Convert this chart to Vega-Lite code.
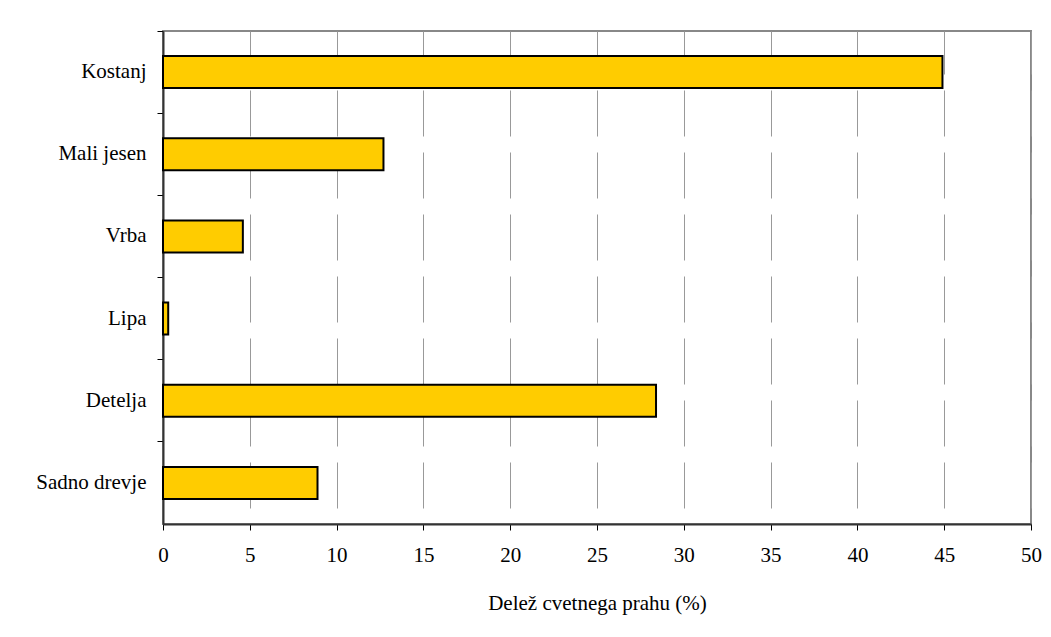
{
  "$schema": "https://vega.github.io/schema/vega-lite/v6.json",
  "width": 868,
  "height": 493,
  "autosize": {"type": "none"},
  "padding": {"left": 163, "top": 31, "right": 20, "bottom": 113},
  "background": "white",
  "config": {
    "view": {"stroke": "#888888", "strokeWidth": 2},
    "font": "'Liberation Serif', 'Times New Roman', 'DejaVu Serif', serif"
  },
  "data": {
    "values": [
      {"vrsta": "Kostanj", "delez": 44.9},
      {"vrsta": "Mali jesen", "delez": 12.7},
      {"vrsta": "Vrba", "delez": 4.6},
      {"vrsta": "Lipa", "delez": 0.3},
      {"vrsta": "Detelja", "delez": 28.4},
      {"vrsta": "Sadno drevje", "delez": 8.9}
    ]
  },
  "mark": {"type": "bar", "fill": "#FFCC00", "stroke": "#000000", "strokeWidth": 2, "height": {"band": 0.39}},
  "encoding": {
    "y": {
      "field": "vrsta",
      "type": "nominal",
      "sort": null,
      "scale": {"paddingInner": 0, "paddingOuter": 0},
      "axis": {
        "title": null,
        "bandPosition": 0,
        "domainColor": "#333333",
        "domainWidth": 2,
        "tickColor": "#000000",
        "tickSize": 6,
        "tickWidth": 1,
        "labelFont": "'Liberation Serif', 'Times New Roman', 'DejaVu Serif', serif",
        "labelFontSize": 21,
        "labelColor": "#000000",
        "labelPadding": 11,
        "grid": false
      }
    },
    "x": {
      "field": "delez",
      "type": "quantitative",
      "scale": {"domain": [0, 50], "nice": false, "zero": true},
      "axis": {
        "title": "Delež cvetnega prahu (%)",
        "values": [0, 5, 10, 15, 20, 25, 30, 35, 40, 45, 50],
        "domainColor": "#333333",
        "domainWidth": 2,
        "tickColor": "#000000",
        "tickSize": 6,
        "tickWidth": 1,
        "labelFont": "'Liberation Serif', 'Times New Roman', 'DejaVu Serif', serif",
        "labelFontSize": 21,
        "labelColor": "#000000",
        "labelPadding": 14,
        "labelFlush": false,
        "titleFont": "'Liberation Serif', 'Times New Roman', 'DejaVu Serif', serif",
        "titleFontSize": 21,
        "titleFontWeight": "normal",
        "titleColor": "#000000",
        "titlePadding": 27,
        "grid": true,
        "gridColor": "#999999",
        "gridWidth": 1,
        "gridDash": [46, 16],
        "gridDashOffset": 46
      }
    }
  }
}
